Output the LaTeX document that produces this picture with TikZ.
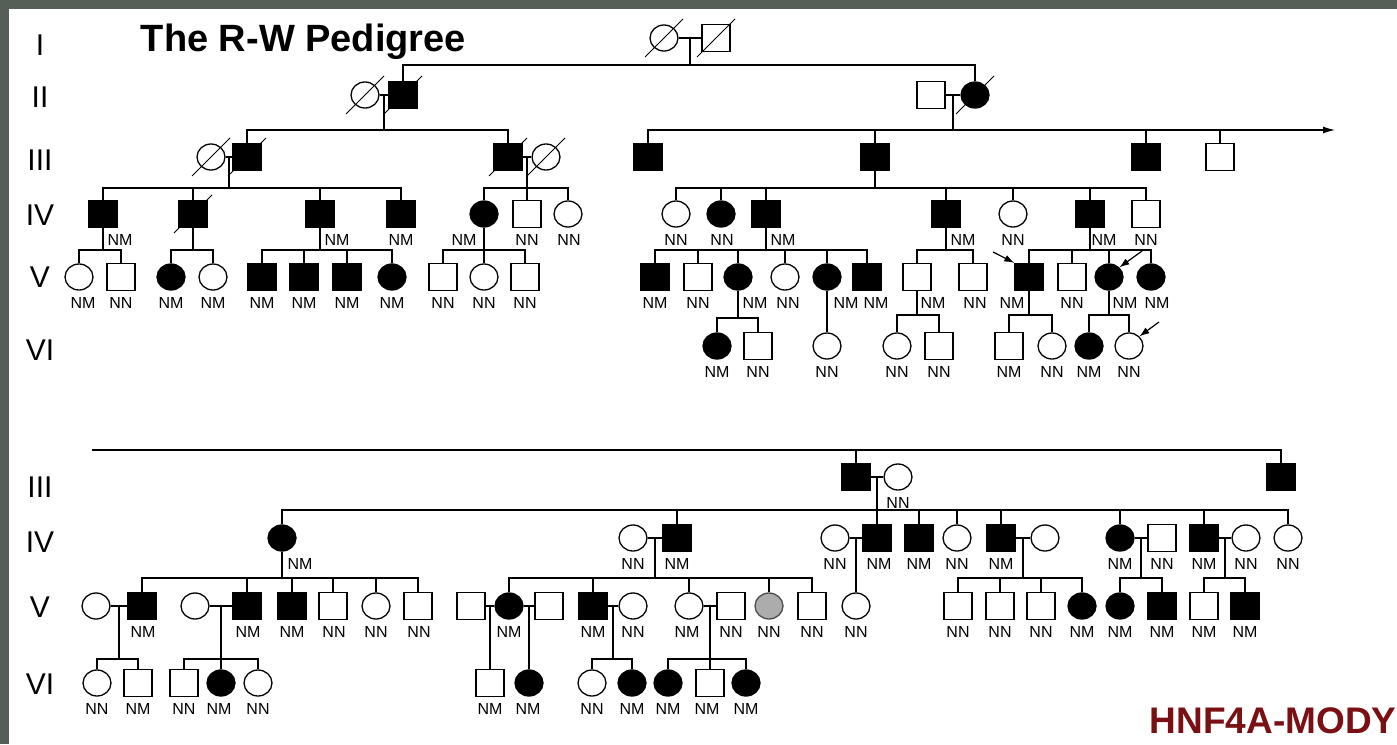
\documentclass[tikz,border=0pt]{standalone}
\usepackage{fontspec}
\setmainfont{Liberation Sans}
\usetikzlibrary{arrows.meta,calc,shapes.geometric}
\definecolor{modyred}{RGB}{122,16,20}
\definecolor{framegray}{RGB}{86,94,88}
% parent drop -> sibship line -> each child
\newcommand{\sibship}[3]{%
  \foreach \kid in {#3}
    \draw (#1) -- (#1 |- 0,#2) -| (\kid.north);%
}

\begin{document}
\begin{tikzpicture}[x=1pt, y=-1pt, line width=1.1pt,
  sym/.style={draw, line width=1.3pt, inner sep=0pt},
  mal/.style={sym, rectangle, minimum width=28pt, minimum height=27pt},
  fem/.style={sym, ellipse, minimum width=28pt, minimum height=26pt},
  amal/.style={mal, fill=black},
  afem/.style={fem, fill=black},
  gfem/.style={fem, fill=gray!65, draw=black!70},
  lab/.style={font=\fontsize{16}{16}\selectfont, inner sep=0pt},
  gen/.style={font=\fontsize{30}{30}\selectfont, inner sep=0pt},
  slashln/.style={line width=1pt},
  pointer/.style={line width=1.2pt, -{Latex[length=10pt,width=7pt]}}]
  % Frame
  \fill[framegray] (0,0) rectangle (1397,744);
  \fill[white] (9,9) rectangle (1397,744);
  \useasboundingbox (0,0) rectangle (1397,744);

  % Titles
  \node[font=\bfseries\fontsize{38}{38}\selectfont, anchor=base west] (title) at (137,51) {The R-W Pedigree};
  \node[font=\bfseries\fontsize{37}{37}\selectfont, text=modyred, anchor=base west] (mody) at (1146,733) {HNF4A-MODY};

  % Generation numbers
  \foreach \nm/\y/\txt in {gt1/45/I, gt2/97/II, gt3/160/III, gt4/215/IV, gt5/277/V, gt6/350/VI,
      gb3/487/III, gb4/542/IV, gb5/607/V, gb6/684/VI}
    \node[gen] (\nm) at (40,\y) {\txt};

  % Upper part: people
  \foreach \nm/\x/\st in {a1/664/fem, a2/716/mal}
    \node[\st] (\nm) at (\x,38) {};
  \foreach \nm/\x/\st in {b1/365/fem, b2/403/amal, b3/931/mal, b4/975/afem}
    \node[\st] (\nm) at (\x,95) {};
  \foreach \nm/\x/\st in {c1/211/fem, c2/247/amal, c3/508/amal, c4/546/fem,
      c5/648/amal, c6/875/amal, c7/1146/amal, c8/1220/mal}
    \node[\st] (\nm) at (\x,157) {};
  \foreach \nm/\x/\st in {d1/103/amal, d2/193/amal, d3/320/amal, d4/401/amal, d5/484/afem,
      d6/527/mal, d7/568/fem, d8/676/fem, d9/721/afem, d10/766/amal, d11/946/amal,
      d12/1013/fem, d13/1090/amal, d14/1146/mal}
    \node[\st] (\nm) at (\x,214) {};
  \foreach \nm/\x/\st in {e1/79/fem, e2/121/mal, e3/171/afem, e4/213/fem, e5/262/amal,
      e6/304/amal, e7/347/amal, e8/392/afem, e9/443/mal, e10/484/fem, e11/525/mal,
      e12/655/amal, e13/698/mal, e14/738/afem, e15/785/fem, e16/827/afem, e17/867/amal,
      e18/917/mal, e19/973/mal, e20/1029/amal, e21/1072/mal, e22/1109/afem, e23/1151/afem}
    \node[\st] (\nm) at (\x,277) {};
  \foreach \nm/\x/\st in {f1/717/afem, f2/758/mal, f3/827/fem, f4/897/fem, f5/939/mal,
      f6/1009/mal, f7/1052/fem, f8/1089/afem, f9/1129/fem}
    \node[\st] (\nm) at (\x,346) {};

  % Lower part: people
  \foreach \nm/\x/\st in {g1/856/amal, g2/898/fem, g3/1281/amal}
    \node[\st] (\nm) at (\x,477) {};
  \foreach \nm/\x/\st in {h1/282/afem, h2/633/fem, h3/677/amal, h4/835/fem, h5/877/amal,
      h6/919/amal, h7/957/fem, h8/1001/amal, h9/1045/fem, h10/1120/afem, h11/1162/mal,
      h12/1204/amal, h13/1246/fem, h14/1288/fem}
    \node[\st] (\nm) at (\x,538) {};
  \foreach \nm/\x/\st in {i1/96/fem, i2/142/amal, i3/195/fem, i4/247/amal, i5/292/amal,
      i6/333/mal, i7/376/fem, i8/418/mal, i9/471/mal, i10/509/afem, i11/549/mal,
      i12/593/amal, i13/633/fem, i14/689/fem, i15/731/mal, i16/769/gfem, i17/812/mal,
      i18/856/fem, i19/958/mal, i20/1000/mal, i21/1041/mal, i22/1082/afem,
      i23/1120/afem, i24/1162/amal, i25/1204/mal, i26/1245/amal}
    \node[\st] (\nm) at (\x,606) {};
  \foreach \nm/\x/\st in {j1/97/fem, j2/138/mal, j3/184/mal, j4/221/afem, j5/258/fem,
      j6/490/mal, j7/529/afem, j8/592/fem, j9/632/afem, j10/668/afem, j11/710/mal, j12/746/afem}
    \node[\st] (\nm) at (\x,683) {};

  % Genotypes
  \foreach \nm/\dx/\txt in {d1/17/NM, d3/17/NM, d4/0/NM, d5/-20/NM, d6/0/NN, d7/1/NN,
      d8/0/NN, d9/1/NN, d10/17/NM, d11/17/NM, d12/0/NN, d13/14/NM, d14/0/NN,
      e1/4/NM, e2/0/NN, e3/0/NM, e4/0/NM, e5/0/NM, e6/0/NM, e7/0/NM, e8/0/NM,
      e9/0/NN, e10/0/NN, e11/0/NN, e12/0/NM, e13/0/NN, e14/17/NM, e15/3/NN,
      e16/19/NM, e17/9/NM, e18/16/NM, e19/2/NN, e20/-17/NM, e21/0/NN, e22/16/NM, e23/6/NM,
      f1/0/NM, f2/0/NN, f3/0/NN, f4/0/NN, f5/0/NN, f6/0/NM, f7/0/NN, f8/0/NM, f9/0/NN,
      g2/0/NN, h1/18/NM, h2/0/NN, h3/0/NM, h4/0/NN, h5/2/NM, h6/0/NM, h7/0/NN, h8/0/NM,
      h10/0/NM, h11/0/NN, h12/0/NM, h13/0/NN, h14/0/NN,
      i2/1/NM, i4/1/NM, i5/0/NM, i6/1/NN, i7/0/NN, i8/1/NN, i10/0/NM, i12/0/NM, i13/0/NN,
      i14/-2/NM, i15/0/NN, i16/0/NN, i17/0/NN, i18/0/NN, i19/0/NN, i20/0/NN, i21/0/NN,
      i22/0/NM, i23/0/NM, i24/0/NM, i25/0/NM, i26/0/NM,
      j1/0/NN, j2/0/NM, j3/0/NN, j4/-2/NM, j5/0/NN, j6/0/NM, j7/-1/NM, j8/0/NN, j9/0/NM,
      j10/0/NM, j11/-3/NM, j12/0/NM}
    \node[lab] (\nm-l) at ([shift={(\dx,26)}]\nm.center) {\txt};

  % Deceased
  \foreach \nm in {a1,a2,b1,b2,b4,c1,c2,c3,c4,d2}
    \draw[slashln] ([shift={(-19,19)}]\nm.center) -- ([shift={(19,-19)}]\nm.center);

  % Marriages
  \foreach \p/\q in {a1/a2, b1/b2, b3/b4, c1/c2, c3/c4, g1/g2, h2/h3, h4/h5, h8/h9,
      h10/h11, h12/h13, i1/i2, i3/i4, i9/i10, i10/i11, i12/i13, i14/i15} {
    \draw (\p) -- (\q);
    \coordinate (m\p\q) at ($(\p)!.5!(\q)$);
  }

  % Upper part: descent
  \sibship{ma1a2}{65}{b2,b4}
  \sibship{mb1b2}{130}{c2,c3}
  \sibship{mb3b4}{130}{c5,c6,c7,c8}
  \coordinate (cont) at (1335,130);
  \draw[-{Latex[length=12pt,width=7pt]}] (mb3b4 |- cont) -- (cont);
  \sibship{mc1c2}{188}{d1,d2,d3,d4}
  \sibship{mc3c4}{188}{d5,d6,d7}
  \sibship{c6.south}{188}{d8,d9,d10,d11,d12,d13,d14}
  \sibship{d1.south}{250}{e1,e2}
  \sibship{d2.south}{250}{e3,e4}
  \sibship{d3.south}{250}{e5,e6,e7,e8}
  \sibship{d5.south}{250}{e9,e10,e11}
  \sibship{d10.south}{250}{e12,e13,e14,e15,e16,e17}
  \sibship{d11.south}{250}{e18,e19}
  \sibship{d13.south}{250}{e20,e21,e22,e23}
  \sibship{e14.south}{318}{f1,f2}
  \sibship{e16.south}{318}{f3}
  \sibship{e18.south}{315}{f4,f5}
  \sibship{e20.south}{315}{f6,f7}
  \sibship{e22.south}{315}{f8,f9}

  % Probands
  \coordinate (pa1) at (993,252);
  \coordinate (pa2) at (1142,251);
  \coordinate (pa3) at (1159,322);
  \draw[pointer] (pa1) -- (e20.north west);
  \draw[pointer] (pa2) -- (e22.north east);
  \draw[pointer] (pa3) -- (f9.north east);

  % Lower part: descent
  \coordinate (contb) at (92,450);
  \draw (contb) -| (g3.north);
  \draw (g1.north) -- (g1.north |- contb);
  \sibship{mg1g2}{510}{h1,h3,h5,h6,h7,h8,h10,h12,h14}
  \sibship{h1.south}{578}{i2,i4,i5,i6,i7,i8}
  \sibship{mh2h3}{578}{i10,i12,i14,i16,i17}
  \sibship{mh4h5}{578}{i18}
  \sibship{mh8h9}{578}{i19,i20,i21,i22}
  \sibship{mh10h11}{578}{i23,i24}
  \sibship{mh12h13}{578}{i25,i26}
  \sibship{mi1i2}{659}{j1,j2}
  \sibship{mi3i4}{659}{j3,j4,j5}
  \sibship{mi9i10}{659}{j6}
  \sibship{mi10i11}{659}{j7}
  \sibship{mi12i13}{659}{j8,j9}
  \sibship{mi14i15}{659}{j10,j11,j12}
\end{tikzpicture}
\end{document}
